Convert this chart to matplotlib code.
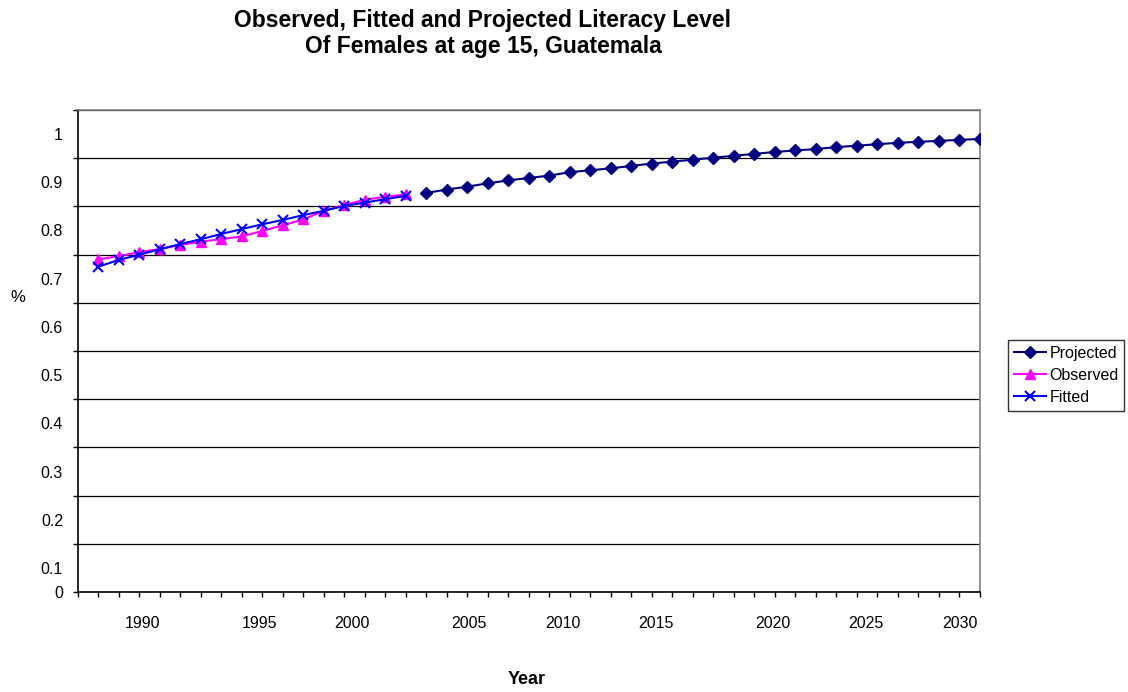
import matplotlib
matplotlib.use("Agg")
import matplotlib.pyplot as plt
from matplotlib.ticker import FixedLocator, FixedFormatter

plt.rcParams['font.family'] = ['Liberation Sans', 'DejaVu Sans']

# ---- data ----
obs_years = list(range(1988, 2004))
observed = [0.690, 0.697, 0.705, 0.712, 0.720, 0.727, 0.732, 0.738,
            0.749, 0.761, 0.773, 0.791, 0.803, 0.814, 0.820, 0.825]
fitted = [0.675, 0.689, 0.700, 0.711, 0.722, 0.732, 0.743, 0.753,
          0.763, 0.772, 0.782, 0.791, 0.801, 0.808, 0.815, 0.822]
proj_years = list(range(2004, 2032))
projected = [0.828, 0.835, 0.841, 0.848, 0.854, 0.859, 0.864, 0.871,
             0.875, 0.879, 0.884, 0.889, 0.893, 0.897, 0.901, 0.905,
             0.909, 0.913, 0.916, 0.919, 0.923, 0.926, 0.929, 0.932,
             0.934, 0.936, 0.938, 0.940]
x_labels = ['1990', '1995', '2000', '2005', '2010', '2015', '2020', '2025', '2030']
y_labels = ['0.1', '0.2', '0.3', '0.4', '0.5', '0.6', '0.7', '0.8', '0.9', '1']
title_lines = ['Observed, Fitted and Projected Literacy Level',
               'Of Females at age 15, Guatemala']

# ---- layout (label placement as rendered in the original) ----
x_label_pos = [1990.16, 1995.83, 2000.37, 2006.07, 2010.66, 2015.2, 2020.9, 2025.44, 2030.02]
y_label_pos = [0.05, 0.15, 0.25, 0.35, 0.45, 0.55, 0.65, 0.75, 0.85, 0.95]

fig = plt.figure(figsize=(11.28, 6.92), dpi=100)
ax = fig.add_axes([78/1128, 1-592/692, (980-78)/1128, (592-110)/692])

ax.plot(proj_years, projected, color='#000080', marker='D', markersize=6,
        lw=1.5, label='Projected', zorder=3)
ax.plot(obs_years, observed, color='#FF00FF', marker='^', markersize=7.5,
        lw=1.5, label='Observed', zorder=3)
ax.plot(obs_years, fitted, color='#0000FF', marker='x', markersize=7.5,
        mew=1.5, lw=1.5, label='Fitted', zorder=4)

ax.set_xlim(1987, 2031)
ax.set_ylim(0, 1.0)

# y axis
yt = [i/10 for i in range(11)]
ax.yaxis.set_major_locator(FixedLocator(yt))
ax.yaxis.set_major_formatter(FixedFormatter(['0'] + ['']*10))
ax.yaxis.set_minor_locator(FixedLocator(y_label_pos))
ax.yaxis.set_minor_formatter(FixedFormatter(y_labels))
ax.tick_params(axis='y', which='major', direction='out', length=3.6, width=1,
               pad=7.2, labelsize=11.5)
ax.tick_params(axis='y', which='minor', length=0, pad=10.8, labelsize=11.5)

# x axis
ax.xaxis.set_major_locator(FixedLocator(list(range(1987, 2032))))
ax.xaxis.set_major_formatter(FixedFormatter(['']*45))
ax.xaxis.set_minor_locator(FixedLocator(x_label_pos))
ax.xaxis.set_minor_formatter(FixedFormatter(x_labels))
ax.tick_params(axis='x', which='major', direction='out', length=3.6, width=1)
ax.tick_params(axis='x', which='minor', length=0, pad=17.5, labelsize=11.5)

ax.grid(axis='y', which='major', color='black', lw=0.9)
ax.set_axisbelow(True)
for s in ['top', 'right']:
    ax.spines[s].set_color('#808080')
    ax.spines[s].set_linewidth(1.2)
for s in ['left', 'bottom']:
    ax.spines[s].set_color('black')
    ax.spines[s].set_linewidth(1.2)

fig.text(483/1128, 1-20/692, title_lines[0], ha='center', va='center',
         fontsize=16.5, fontweight='bold')
fig.text(483/1128, 1-46/692, title_lines[1], ha='center', va='center',
         fontsize=16.5, fontweight='bold')
fig.text(18/1128, 1-297/692, '%', ha='center', va='center', fontsize=12)
fig.text(527/1128, 1-679/692, 'Year', ha='center', va='center', fontsize=13, fontweight='bold')

leg = fig.legend(loc='upper left', bbox_to_anchor=(1008/1128, 1-340/692),
                 fontsize=11.5, frameon=True, fancybox=False, shadow=False,
                 handlelength=2.0, handletextpad=0.25, labelspacing=0.45,
                 borderpad=0.35, borderaxespad=0)
leg.get_frame().set_edgecolor('black')
leg.get_frame().set_linewidth(1)

fig.savefig('out.png', dpi=100)
